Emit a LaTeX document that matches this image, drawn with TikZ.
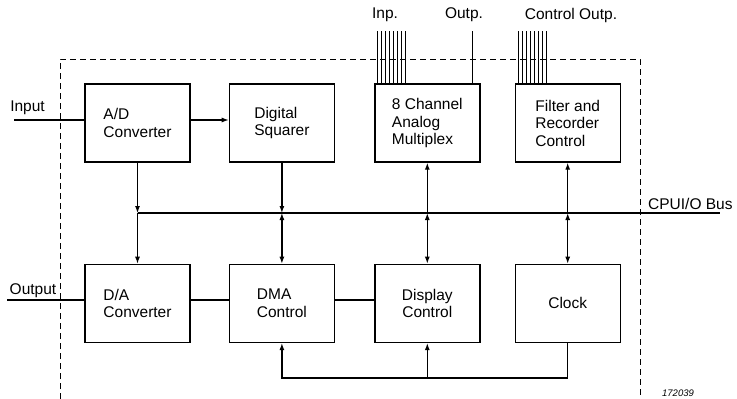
\documentclass[tikz,border=0pt]{standalone}
\usepackage{fontspec}
\setmainfont{Liberation Sans}
\usetikzlibrary{positioning, arrows.meta}

\begin{document}
\begin{tikzpicture} [
        x=1pt, y=-1pt,
        font=\fontsize{15.5}{17.5}\selectfont,
        block/.style={rectangle, draw, line width=1.4pt, minimum width=105pt, minimum height=78pt, align=left, inner sep=0pt},
        wire/.style={draw, line width=1.2pt},
        line/.style={draw, line width=1.2pt, -{Latex[length=7pt,width=5pt]}},
        both/.style={draw, line width=1.2pt, {Latex[length=7pt,width=5pt]}-{Latex[length=7pt,width=5pt]}},
        frame/.style={draw, line width=1pt, dash pattern=on 6pt off 4pt},
        tag/.style={inner sep=1pt}
    ]
        \useasboundingbox (0,0) rectangle (737,399);

        % Nodes
        \node[block] (ad) at (137.5,123) {A/D\\Converter};
        \node[block, right=38pt of ad] (sq) {Digital\\Squarer};
        \node[block, right=39pt of sq] (mx) {8 Channel\\Analog\\Multiplex};
        \node[block, right=34pt of mx] (fr) {Filter and\\Recorder\\Control};

        \node[block, below=101pt of ad] (da) {D/A\\Converter};
        \node[block, below=101pt of sq] (dm) {DMA\\Control};
        \node[block, below=101pt of mx, align=center] (dc) {Display\\Control};
        \node[block, below=101pt of fr, align=center] (ck) {Clock};

        \coordinate (in) at (14,120);
        \coordinate (out) at (7,300);
        \coordinate (bus) at (720,213);
        \coordinate (lp) at (0,378);
        \coordinate (top) at (0,31);

        % Labels
        \node[tag] (inlbl) at (27.5,108) {Input};
        \node[tag] (outlbl) at (33,291) {Output};
        \node[tag] (inplbl) at (385,15) {Inp.};
        \node[tag] (outplbl) at (464,15) {Outp.};
        \node[tag] (ctllbl) at (571,15) {Control Outp.};
        \node[tag, anchor=west] (buslbl) at (647,204) {CPUI/O Bus};
        \node[tag, font=\fontsize{9.5}{11}\selectfont\itshape] (fig) at (678,393) {172039};

        % Frame
        \path[frame] (60,399) -- (60,59) -- (640,59) -- (640,399);

        % Paths
        \path [wire] (in) -- (ad.west |- in);
        \path [line] (ad.east |- in) -- (sq.west |- in);
        \path [wire] (out) -- (da.west |- out);
        \path [wire] (da.east |- out) -- (dm.west |- out);
        \path [wire] (dm.east |- out) -- (dc.west |- out);

        \path [wire] (ad.south |- bus) -- (bus);
        \path [line] (ad.south) -- (ad.south |- bus);
        \path [line] (ad.south |- bus) -- (da.north);
        \path [line] (sq.south) -- (sq.south |- bus);
        \path [both] (sq.south |- bus) -- (dm.north);
        \path [line] (mx.south |- bus) -- (mx.south);
        \path [both] (mx.south |- bus) -- (dc.north);
        \path [line] (fr.south |- bus) -- (fr.south);
        \path [both] (fr.south |- bus) -- (ck.north);

        \path [line] (ck.south) -- (ck.south |- lp) -| (dm.south);
        \path [line] (dc.south |- lp) -- (dc.south);

        \foreach \dx in {3,7,...,31}
            \path [wire] ([xshift=\dx pt]mx.north west) -- ([xshift=\dx pt]mx.north west |- top);
        \path [wire] ([xshift=-8pt]mx.north east) -- ([xshift=-8pt]mx.north east |- top);
        \foreach \dx in {4,8,...,32}
            \path [wire] ([xshift=\dx pt]fr.north west) -- ([xshift=\dx pt]fr.north west |- top);
    \end{tikzpicture}
\end{document}
